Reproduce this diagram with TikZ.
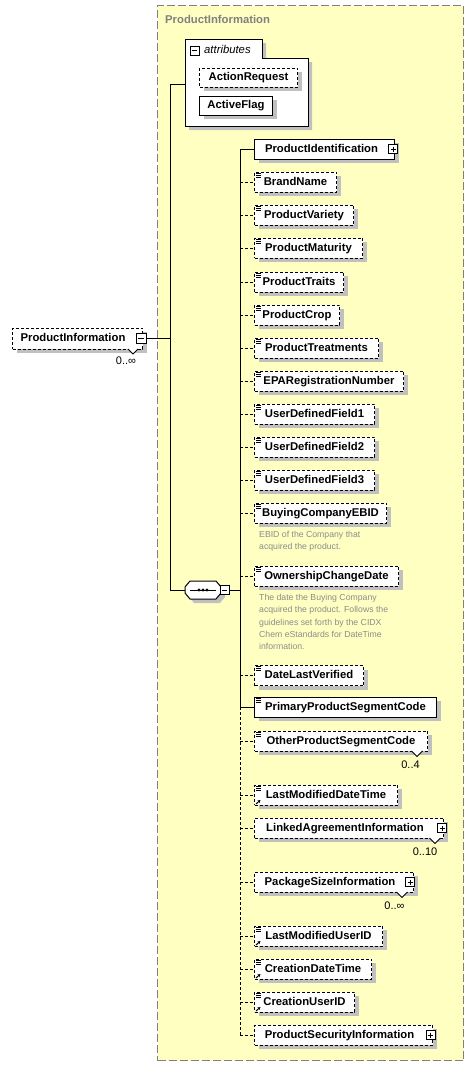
\documentclass[tikz,border=0pt]{standalone}
\usepackage{fontspec}
\setmainfont{Liberation Sans}
\usetikzlibrary{shadows,arrows.meta}
\definecolor{panelfill}{RGB}{255,255,194}
\definecolor{panelborder}{RGB}{128,128,128}
\definecolor{shadowgray}{RGB}{192,192,192}
\definecolor{doctext}{RGB}{140,140,140}
\definecolor{titlegray}{RGB}{128,128,128}
\tikzset{
  elem/.style={draw=black, fill=white, line width=1pt, minimum height=20pt, inner sep=0pt,
    anchor=west, font=\fontsize{11.3}{13}\selectfont\bfseries, text height=8.3pt, text depth=2.3pt,
    drop shadow={shadow xshift=4pt, shadow yshift=-4pt, fill=shadowgray, opacity=1}},
  optelem/.style={elem, dash pattern=on 3pt off 2pt},
  conn/.style={line width=1pt},
  optconn/.style={line width=1pt, dash pattern=on 3pt off 2pt},
  pmbox/.style={draw=black, fill=white, line width=0.8pt, minimum size=9pt, inner sep=0pt},
  plusbox/.style={pmbox, path picture={
      \draw[line width=0.8pt] ([xshift=2pt]path picture bounding box.west) -- ([xshift=-2pt]path picture bounding box.east);
      \draw[line width=0.8pt] ([yshift=-2pt]path picture bounding box.north) -- ([yshift=2pt]path picture bounding box.south);}},
  minusbox/.style={pmbox, path picture={
      \draw[line width=0.8pt] ([xshift=2pt]path picture bounding box.west) -- ([xshift=-2pt]path picture bounding box.east);}},
  mult/.style={font=\fontsize{11}{13}\selectfont, text=black, inner sep=0pt},
  doc/.style={font=\fontsize{8.7}{12}\selectfont, text=doctext, anchor=west, inner sep=0pt, text height=6.3pt, text depth=1.8pt},
  notchline/.style={draw=black, fill=white, line width=0.8pt},
}
\newcommand\simpicon[1]{\foreach \dy in {1.6,3.6,5.6} \draw[line width=0.8pt] ([shift={(2,\dy)}]#1.north west) -- ++(5,0);}
\newcommand\reficon[1]{\draw[line width=1pt, -{Stealth[length=3pt,width=3.2pt]}] ([shift={(2,-1.5)}]#1.south west) -- ++(4.5,-4);}
\begin{document}
\begin{tikzpicture}[x=1pt, y=-1pt]
\useasboundingbox (0,0) rectangle (474,1068);
\fill[white] (0,0) rectangle (474,1068);

% yellow panel
\node[draw=panelborder, fill=panelfill, line width=1pt, dash pattern=on 8pt off 3pt,
  minimum width=306pt, minimum height=1055pt, inner sep=0pt, anchor=north west] (panel) at (157,5) {};
\node[font=\fontsize{11.3}{13}\selectfont\bfseries, text=titlegray, anchor=west, inner sep=0pt] (ptitle) at (165,19) {ProductInformation};

% attributes group
\fill[shadowgray] (189,43) -- (266,43) -- (266,62) -- (312,62) -- (312,130) -- (189,130) -- cycle;
\draw[fill=white, line width=1pt] (185,39) -- (262,39) -- (262,58) -- (308,58) -- (308,126) -- (185,126) -- cycle;
\node[minimum width=123pt, minimum height=87pt, inner sep=0pt, anchor=north west] (attrs) at (185,39) {};
\node[minusbox] (attmin) at (194.5,50.5) {};
\node[font=\fontsize{11.3}{13}\selectfont\itshape, anchor=west, inner sep=0pt] (atttitle) at (204,49.5) {attributes};
\node[optelem, minimum width=98pt, minimum height=19pt] (actreq) at (199,77.5) {ActionRequest};
\node[elem, minimum width=73pt, minimum height=19pt] (actflag) at (199,105.5) {ActiveFlag};

% root element
\node[optelem, minimum width=130pt, minimum height=21pt] (pinfo) at (12,338.5) {ProductInformation\hspace*{9pt}};
\node[minusbox, minimum size=10pt] (pimin) at (141,338) {};
\draw[notchline] (128,349) -- (133,354) -- (138,349);
\node[mult] (pimult) at (126,361) {0..∞};

% sequence compositor
\fill[shadowgray] (194,585) -- (220,585) -- (225,591) -- (225,597) -- (220,603) -- (194,603) -- (189,597) -- (189,591) -- cycle;
\draw[fill=white, line width=1pt] (190,581) -- (216,581) -- (221,587) -- (221,593) -- (216,599) -- (190,599) -- (185,593) -- (185,587) -- cycle;
\node[minimum width=36pt, minimum height=18pt, inner sep=0pt] (seq) at (203,590) {};
\draw[line width=1pt] (190,590) -- (216,590);
\foreach \dx in {199,203,207} \fill (\dx,590) circle (1.6pt);
\node[minusbox] (seqmin) at (224.5,590) {};

% children
\node[elem, minimum width=140pt] (pid) at (254,149) {ProductIdentification\hspace*{6pt}};
\node[plusbox] (pidp) at (393,149) {};
\node[optelem, minimum width=82pt] (brand) at (254,182) {BrandName};
\node[optelem, minimum width=99pt] (variety) at (254,215) {ProductVariety};
\node[optelem, minimum width=108pt] (maturity) at (254,248) {ProductMaturity};
\node[optelem, minimum width=89pt] (traits) at (254,282) {ProductTraits};
\node[optelem, minimum width=85pt] (crop) at (254,315) {ProductCrop};
\node[optelem, minimum width=124pt] (treat) at (254,348) {ProductTreatments};
\node[optelem, minimum width=149pt] (epa) at (254,381) {EPARegistrationNumber};
\node[optelem, minimum width=120pt] (udf1) at (254,414) {UserDefinedField1};
\node[optelem, minimum width=120pt] (udf2) at (254,447) {UserDefinedField2};
\node[optelem, minimum width=120pt] (udf3) at (254,480) {UserDefinedField3};
\node[optelem, minimum width=132pt] (buying) at (254,513) {BuyingCompanyEBID};
\node[doc] (buyingdoc1) at (259,535.7) {EBID of the Company that};
\node[doc] (buyingdoc2) at (259,547.5) {acquired the product.};
\node[optelem, minimum width=144pt] (owner) at (254,576) {OwnershipChangeDate};
\node[doc] (ownerdoc1) at (259,598.3) {The date the Buying Company};
\node[doc] (ownerdoc2) at (259,610.6) {acquired the product. Follows the};
\node[doc] (ownerdoc3) at (259,622.9) {guidelines set forth by the CIDX};
\node[doc] (ownerdoc4) at (259,635.1) {Chem eStandards for DateTime};
\node[doc] (ownerdoc5) at (259,647.3) {information.};
\node[optelem, minimum width=109pt] (dlv) at (254,675.5) {DateLastVerified};
\node[elem, minimum width=182pt] (primary) at (254,707) {PrimaryProductSegmentCode};
\node[optelem, minimum width=173pt] (other) at (254,741) {OtherProductSegmentCode};
\draw[notchline] (411.5,751) -- (417,756.5) -- (422.5,751);
\node[mult] (othermult) at (410.5,765) {0..4};
\node[optelem, minimum width=143pt] (lmdt) at (254,795) {LastModifiedDateTime};
\node[optelem, minimum width=189pt] (linked) at (254,828) {LinkedAgreementInformation\hspace*{8pt}};
\node[plusbox] (linkedp) at (442,828) {};
\draw[notchline] (429.5,838) -- (435,843.5) -- (440.5,838);
\node[mult] (linkedmult) at (425,852) {0..10};
\node[optelem, minimum width=159pt] (pkg) at (254,882) {PackageSizeInformation\hspace*{8pt}};
\node[plusbox] (pkgp) at (410,882) {};
\draw[notchline] (396.5,892) -- (402,897.5) -- (407.5,892);
\node[mult] (pkgmult) at (394.5,906) {0..∞};
\node[optelem, minimum width=128pt] (lmuid) at (254,936) {LastModifiedUserID};
\node[optelem, minimum width=117pt] (cdt) at (254,969) {CreationDateTime};
\node[optelem, minimum width=100pt] (cuid) at (254,1002) {CreationUserID};
\node[optelem, minimum width=178pt] (psec) at (254,1035) {ProductSecurityInformation\hspace*{8pt}};
\node[plusbox] (psecp) at (430.5,1035) {};

% icons
\foreach \n in {brand,variety,maturity,traits,crop,treat,epa,udf1,udf2,udf3,buying,owner,dlv,primary,other,lmdt,lmuid,cdt,cuid} {\simpicon{\n}}
\foreach \n in {lmdt,lmuid,cdt,cuid} {\reficon{\n}}

% connectors
\coordinate (vtop) at (170,84);
\coordinate (vbot) at (170,590);
\coordinate (vx) at (240,0);
\draw[conn] (pimin.east) -- (vtop |- pimin.east);
\draw[conn] (vtop) -- (vbot);
\draw[conn] (vtop) -- (attrs.west |- vtop);
\draw[conn] (vbot) -- (seq.west);
\draw[conn] (seqmin.east) -- (vx |- seqmin.east);
\draw[conn] (vx |- pid.west) -- (vx |- primary.west);
\draw[optconn] (vx |- primary.west) -- (vx |- psec.west);
\draw[conn] (vx |- pid.west) -- (pid.west);
\draw[conn] (vx |- primary.west) -- (primary.west);
\foreach \n in {brand,variety,maturity,traits,crop,treat,epa,udf1,udf2,udf3,buying,owner,dlv,other,lmdt,linked,pkg,lmuid,cdt,cuid,psec}
  {\draw[optconn] (vx |- \n.west) -- (\n.west);}
\end{tikzpicture}
\end{document}
